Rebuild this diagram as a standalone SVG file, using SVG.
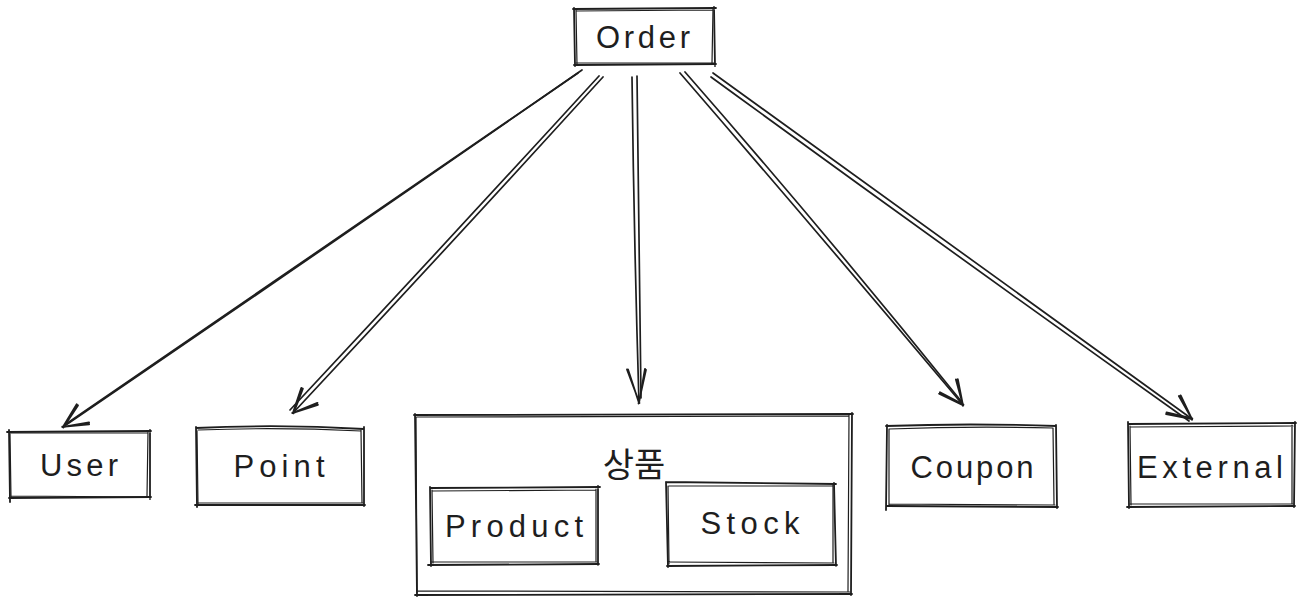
<svg xmlns="http://www.w3.org/2000/svg" width="1304" height="605" viewBox="0 0 1304 605">
<style>
.bx{fill:none;stroke:#1e1e1e;stroke-width:1.8;stroke-linecap:round;stroke-linejoin:round}
.bx2{fill:none;stroke:#1e1e1e;stroke-width:1.2;stroke-linecap:round;stroke-linejoin:round}
.ln{fill:none;stroke:#1e1e1e;stroke-width:1.7;stroke-linecap:round}
.t{font-family:"Liberation Sans","Noto Sans",sans-serif;font-size:31px;fill:#1e1e1e;text-anchor:middle}
.k{font-family:"Noto Sans CJK KR","Noto Sans",sans-serif;font-size:34px;fill:#1e1e1e;text-anchor:middle}
</style>
<defs>
<marker id="ah" markerUnits="userSpaceOnUse" markerWidth="60" markerHeight="60" viewBox="-40 -30 60 60" refX="0" refY="0" orient="auto" overflow="visible">
<path d="M-24 -11 L0 0 L-24 11 M-23 -12.5 L0.5 0.5 M-24.5 9.5 L0 -0.5" fill="none" stroke="#1e1e1e" stroke-width="2" stroke-linecap="round" stroke-linejoin="round"/>
</marker>
<marker id="ahn" markerUnits="userSpaceOnUse" markerWidth="60" markerHeight="60" viewBox="-40 -30 60 60" refX="0" refY="0" orient="auto" overflow="visible">
<path d="M-34 -7 L0 0 L-34 10 M-33 -8 L0.5 0.5 M-34 11 L0 -0.5" fill="none" stroke="#1e1e1e" stroke-width="1.8" stroke-linecap="round" stroke-linejoin="round"/>
</marker>
</defs>
<rect width="1304" height="605" fill="#ffffff"/>
<g id="connectors">
<g id="c-user">
<path class="ln" d="M582 70 Q330 245 63 427" marker-end="url(#ah)"/>
<path class="ln" d="M578 73 Q325 247 66 424"/>
</g>
<g id="c-point">
<path class="ln" d="M603 77 Q450 245 293 413" marker-end="url(#ah)"/>
<path class="ln" d="M599 76 Q446 243 290 410"/>
</g>
<g id="c-product">
<path class="ln" d="M632 77 Q634 240 639 403" marker-end="url(#ahn)"/>
<path class="ln" d="M637 76 Q639 240 641 398"/>
</g>
<g id="c-coupon">
<path class="ln" d="M680 73 Q820 235 963 405" marker-end="url(#ah)"/>
<path class="ln" d="M685 72 Q825 232 961 401"/>
</g>
<g id="c-external">
<path class="ln" d="M713 73 Q950 245 1192 419" marker-end="url(#ah)"/>
<path class="ln" d="M711 77 Q947 249 1189 421"/>
</g>
</g>
<g id="n-order">
<path class="bx" stroke-width="2.4" d="M573 9 L716 8 M714 7 L715 66 M716 64 L574 65 M575 66 L574 8"/>
<path class="bx2" stroke-width="1.7" d="M576 11 L713 10 M713 9 L712 63 M714 63 L576 63 M577 65 L576 10"/>
<text class="t" x="643" y="48" textLength="94" lengthAdjust="spacing">Order</text>
</g>
<g id="n-user">
<path class="bx" d="M7 432 L151 431 M150 430 L150 499 M151 497 L9 498 M10 502 L9 430"/>
<path class="bx2" d="M10 433 L148 433 M148 432 L147 496 M149 497 L11 496 M11 498 L10 434"/>
<text class="t" x="79" y="476" textLength="78" lengthAdjust="spacing">User</text>
</g>
<g id="n-point">
<path class="bx" d="M196 428 Q280 424 364 429 M364 427 L364 506 M365 505 L195 505 M197 507 L196 427"/>
<path class="bx2" d="M198 430 Q280 427 361 431 M361 430 L362 503 M363 503 L198 503 M198 505 L197 431"/>
<text class="t" x="279" y="477" textLength="91" lengthAdjust="spacing">Point</text>
</g>
<g id="n-goods">
<path class="bx" d="M414 415 L853 414 M852 413 L851 595 M852 594 L415 595 M417 596 L415 414"/>
<path class="bx2" d="M417 417 L849 416 M849 415 L848 591 M850 592 L417 591 M417 593 L416 417"/>
<text class="k" x="634" y="477">상품</text>
<g id="n-product">
<path class="bx" d="M430 488 L600 487 M598 486 L598 565 M599 564 L428 565 M431 566 L430 487"/>
<path class="bx2" d="M432 491 L596 490 M596 489 L596 561 M597 562 L431 562 M433 563 L432 490"/>
<text class="t" x="514" y="537" textLength="138" lengthAdjust="spacing">Product</text>
</g>
<g id="n-stock">
<path class="bx" d="M666 482 L836 484 M834 483 L836 566 M837 565 L667 566 M668 567 L666 482"/>
<path class="bx2" d="M669 486 L833 486 M833 485 L833 562 M834 563 L668 562 M669 564 L668 486"/>
<text class="t" x="750" y="534" textLength="99" lengthAdjust="spacing">Stock</text>
</g>
</g>
<g id="n-coupon">
<path class="bx" d="M886 426 Q970 423 1056 426 M1056 425 L1057 508 M1058 507 L887 506 M886 510 L887 425"/>
<path class="bx2" d="M889 429 Q970 426 1053 428 M1053 428 L1054 504 M1055 505 L889 504 M889 506 L889 429"/>
<text class="t" x="972" y="478" textLength="123" lengthAdjust="spacing">Coupon</text>
</g>
<g id="n-external">
<path class="bx" d="M1128 424 L1296 423 M1295 422 L1294 507 M1295 506 L1127 507 M1129 508 L1128 422"/>
<path class="bx2" d="M1131 427 L1293 426 M1292 425 L1292 504 M1293 504 L1130 504 M1131 505 L1130 426"/>
<text class="t" x="1210" y="478" textLength="146" lengthAdjust="spacing">External</text>
</g>
</svg>
